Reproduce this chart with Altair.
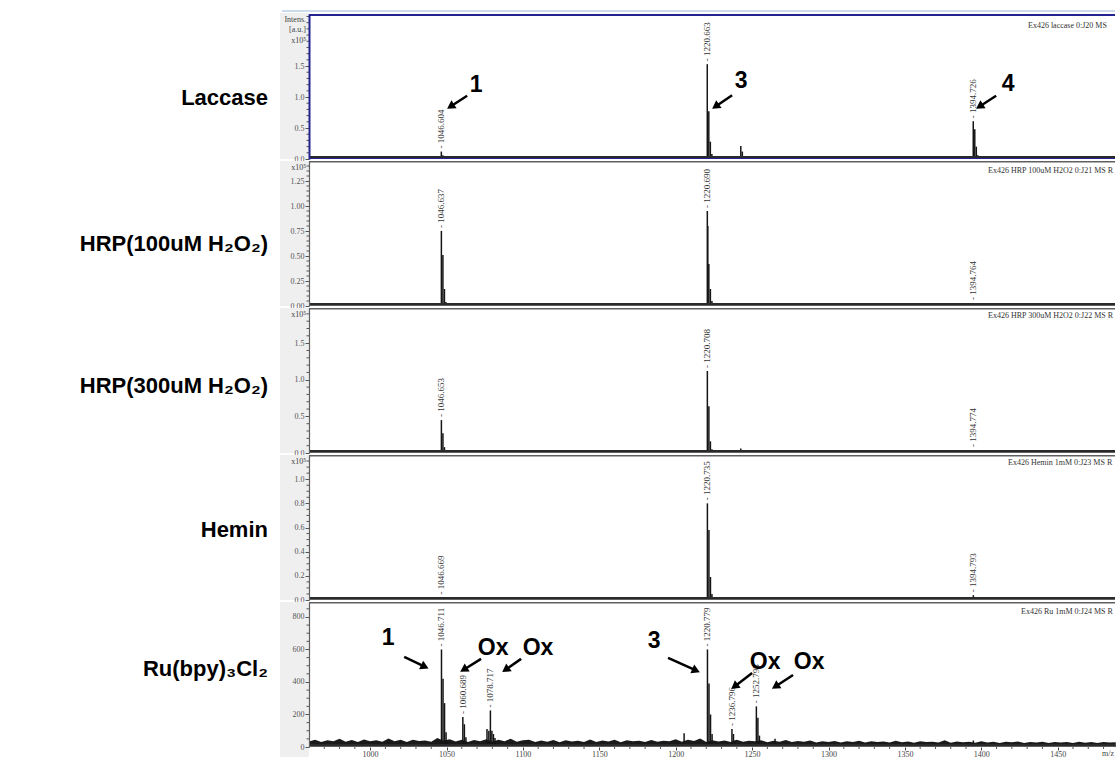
import math
import altair as alt
import pandas as pd

# ---------------- data ----------------
ROW_NAMES = ["Laccase", "HRP(100uM H₂O₂)", "HRP(300uM H₂O₂)", "Hemin", "Ru(bpy)₃Cl₂"]
HEADERS = ["Ex426 laccase 0:J20 MS Raw", "Ex426 HRP 100uM H2O2 0:J21 MS Raw",
           "Ex426 HRP 300uM H2O2 0:J22 MS Raw", "Ex426 Hemin 1mM 0:J23 MS Raw",
           "Ex426 Ru 1mM 0:J24 MS Raw"]

X_TICKS = [1000, 1050, 1100, 1150, 1200, 1250, 1300, 1350, 1400, 1450]
X_MINOR = [970, 980, 990, 1010, 1020, 1030, 1040, 1060, 1070, 1080, 1090, 1110, 1120, 1130, 1140,
           1160, 1170, 1180, 1190, 1210, 1220, 1230, 1240, 1260, 1270, 1280, 1290, 1310, 1320,
           1330, 1340, 1360, 1370, 1380, 1390, 1410, 1420, 1430, 1440, 1460, 1470, 1480]

Y_MAX = [2.34, 1.45, 1.98, 1.20, 892]
Y_TICKS = [[0.0, 0.5, 1.0, 1.5],
           [0.0, 0.25, 0.5, 0.75, 1.0, 1.25],
           [0.0, 0.5, 1.0, 1.5],
           [0.0, 0.2, 0.4, 0.6, 0.8, 1.0],
           [0, 200, 400, 600, 800]]
Y_MINOR = [[0.1, 0.2, 0.3, 0.4, 0.6, 0.7, 0.8, 0.9, 1.1, 1.2, 1.3, 1.4, 1.6, 1.7, 1.8, 1.9, 2.0, 2.1, 2.2, 2.3],
           [0.05, 0.1, 0.15, 0.2, 0.3, 0.35, 0.4, 0.45, 0.55, 0.6, 0.65, 0.7, 0.8, 0.85, 0.9, 0.95,
            1.05, 1.1, 1.15, 1.2, 1.3, 1.35, 1.4],
           [0.1, 0.2, 0.3, 0.4, 0.6, 0.7, 0.8, 0.9, 1.1, 1.2, 1.3, 1.4, 1.6, 1.7, 1.8, 1.9],
           [0.05, 0.1, 0.15, 0.25, 0.3, 0.35, 0.45, 0.5, 0.55, 0.65, 0.7, 0.75, 0.85, 0.9, 0.95, 1.05, 1.1, 1.15],
           [50, 100, 150, 250, 300, 350, 450, 500, 550, 650, 700, 750, 850]]
Y_FMT = [".1f", ".2f", ".1f", ".1f", "d"]

# peaks (m/z, intensity); panels 1-4 in x10^5 a.u., panel 5 in counts
lac_mz = [985.0, 1006.5, 1046.6, 1047.6, 1048.6, 1100.0, 1105.0, 1125.6, 1206.5, 1207.5,
          1220.66, 1221.66, 1222.66, 1223.66, 1224.7, 1242.6, 1243.6, 1244.6, 1258.5,
          1275.0, 1289.0, 1394.73, 1395.73, 1396.73, 1397.7, 1412.0]
lac_int = [0.02, 0.015, 0.12, 0.06, 0.02, 0.015, 0.015, 0.02, 0.03, 0.02,
           1.53, 0.77, 0.28, 0.08, 0.03, 0.21, 0.12, 0.04, 0.02,
           0.015, 0.01, 0.61, 0.48, 0.2, 0.06, 0.015]

h100_mz = [985.0, 1006.0, 1046.64, 1047.64, 1048.64, 1049.6, 1077.0, 1100.0, 1105.0, 1125.0,
           1206.5, 1220.69, 1221.0, 1221.69, 1222.69, 1223.7, 1242.6, 1258.0, 1394.76, 1395.8]
h100_int = [0.01, 0.01, 0.75, 0.51, 0.17, 0.04, 0.01, 0.015, 0.01, 0.02,
            0.02, 0.95, 0.80, 0.42, 0.17, 0.05, 0.03, 0.02, 0.03, 0.02]

h300_mz = [985.0, 1006.0, 1046.65, 1047.65, 1048.65, 1100.0, 1105.0, 1125.0, 1206.5,
           1220.71, 1221.71, 1222.7, 1223.7, 1242.6, 1243.6, 1258.0, 1275.0, 1394.77, 1395.8]
h300_int = [0.01, 0.01, 0.45, 0.27, 0.08, 0.01, 0.01, 0.02, 0.03,
            1.12, 0.64, 0.16, 0.05, 0.06, 0.03, 0.02, 0.02, 0.04, 0.02]

hem_mz = [1046.67, 1047.7, 1206.5, 1220.74, 1221.74, 1222.74, 1223.7, 1242.6, 1258.0,
          1394.79, 1395.8]
hem_int = [0.02, 0.01, 0.01, 0.80, 0.58, 0.19, 0.05, 0.02, 0.015, 0.04, 0.02]

ru_mz = [1046.71, 1047.71, 1048.71, 1049.7, 1050.7, 1060.69, 1061.69, 1062.7,
         1076.5, 1077.7, 1078.72, 1079.7, 1080.7, 1081.7, 1205.5,
         1220.78, 1221.78, 1222.78, 1223.8, 1236.8, 1237.8, 1238.8,
         1252.79, 1253.79, 1254.8, 1265.0, 1394.8]
ru_int = [600, 420, 270, 90, 40, 185, 140, 60,
          110, 100, 225, 100, 80, 55, 85,
          600, 390, 200, 80, 110, 80, 40,
          250, 180, 70, 50, 40]

# Ru baseline noise, one value every 4 m/z from 960 to 1488 (counts)
ru_noise = [34, 44, 31, 42, 36, 50, 33, 43, 30, 46, 35, 41, 32, 52, 36, 44, 30, 45, 37, 40, 33,
            55, 38, 48, 34, 44, 31, 43, 36, 47, 32, 45, 35, 51, 33, 42,
            44, 31, 40, 33, 43, 29, 41, 34, 39, 31, 46, 30, 40, 34, 44, 29, 41, 35, 38, 30, 43, 32, 39, 36, 48,
            33, 45, 37, 52, 31, 42, 34, 40, 30, 44, 32, 39, 35, 41, 29, 39, 33, 43, 30, 37, 32, 40, 28, 36, 31,
            37, 28, 35, 31, 39, 27, 35, 30, 34, 27, 38, 29, 34, 26, 36, 30, 33, 27, 41, 26, 34, 29, 32, 26, 35,
            28, 33, 25, 32, 29, 34, 25, 31, 27, 33, 24, 31, 28, 30, 25, 32, 26, 31, 24, 30, 27, 29]
ru_noise_mz = list(range(960, 1489, 4))

# peak labels (m/z label, apex intensity)
LAB_MZ = [[1046.604, 1220.663, 1394.726],
          [1046.637, 1220.690, 1394.764],
          [1046.653, 1220.708, 1394.774],
          [1046.669, 1220.735, 1394.793],
          [1046.711, 1060.689, 1078.717, 1220.779, 1236.796, 1252.793]]
LAB_TOP = [[0.12, 1.53, 0.61],
           [0.75, 0.95, 0.03],
           [0.45, 1.12, 0.04],
           [0.02, 0.80, 0.04],
           [600, 185, 225, 600, 110, 250]]

# annotations: text label and arrow (start -> tip) in data units
ANN = {
    0: dict(txt=["1", "3", "4"], tx=[1069.4, 1242.8, 1417.5], ty=[1.19, 1.26, 1.21],
            ax1=[1063.5, 1236.9, 1409.7], ay1=[1.02, 1.03, 1.02],
            ax2=[1053.4, 1226.8, 1399.6], ay2=[0.86, 0.86, 0.86]),
    4: dict(txt=["1", "Ox", "Ox", "3", "Ox", "Ox"],
            tx=[1011.8, 1080.5, 1109.9, 1185.9, 1258.5, 1287.3],
            ty=[671, 609, 609, 652, 523, 523],
            ax1=[1022.3, 1072.6, 1098.8, 1195.0, 1250.0, 1276.8],
            ay1=[554, 542, 542, 548, 455, 443],
            ax2=[1035.0, 1062.0, 1089.4, 1212.5, 1239.2, 1266.0],
            ay2=[497, 480, 480, 474, 377, 377]),
}

# ---------------- layout ----------------
W, H = 806, 145
MZ_MIN, MZ_MAX = 960.0, 1487.5
SERIF = "Liberation Serif, DejaVu Serif, serif"
SANS = "Liberation Sans, Arial, DejaVu Sans, sans-serif"
HEADER_X = [719, 679, 679, 699, 712]
HEADER_Y = [12, 10, 8, 8, 10]
ROW_Y = [84, 83, 78, 75, 67]

PEAKS = [(lac_mz, lac_int), (h100_mz, h100_int), (h300_mz, h300_int), (hem_mz, hem_int), (ru_mz, ru_int)]
ONE = pd.DataFrame({"a": [0]})


def panel(i):
    xs = alt.Scale(domain=[MZ_MIN, MZ_MAX], nice=False, zero=False)
    ys = alt.Scale(domain=[0, Y_MAX[i]], nice=False, zero=True)
    frame_col = "#23238f" if i == 0 else "#606060"
    if i == 4:
        xaxis = alt.Axis(values=X_TICKS, format="d", labelFont=SERIF, labelFontSize=8, labelColor="#444",
                         tickSize=3, tickColor="#444", domain=False, grid=False, title=None,
                         labelPadding=0, zindex=1)
    else:
        xaxis = None
    yaxis = alt.Axis(values=Y_TICKS[i], format=Y_FMT[i], labelFont=SERIF, labelFontSize=8,
                     labelColor="#555", tickSize=4, tickColor="#555", domainColor=frame_col,
                     domainWidth=2 if i == 0 else 1.2, grid=False, title=None, labelPadding=1, zindex=1)

    def X(f):
        return alt.X(f, scale=xs, axis=xaxis)

    def Y(f):
        return alt.Y(f, scale=ys, axis=yaxis)

    layers = []
    # grey strip behind y axis
    layers.append(alt.Chart(ONE).mark_rect(color="#efefef").encode(
        x=alt.value(-29), x2=alt.value(0), y=alt.value(-1 if i == 0 else 0),
        y2=alt.value(H + 10 if i == 4 else H)))
    if i == 0:
        layers.append(alt.Chart(ONE).mark_rect(opacity=0).encode(
            x=alt.value(-309), x2=alt.value(-300), y=alt.value(-14), y2=alt.value(-12)))
        layers.append(alt.Chart(ONE).mark_rule(color="#b8cfe8", strokeWidth=1.5).encode(
            x=alt.value(-27), x2=alt.value(W), y=alt.value(-3)))
    if i == 4:
        nd = pd.DataFrame({"mz": ru_noise_mz, "v": ru_noise})
        layers.append(alt.Chart(nd).mark_area(color="#1a1a1a", interpolate="linear").encode(
            x=X("mz:Q"), y=Y("v:Q"), y2=alt.datum(0)))
        md = pd.DataFrame({"m": X_MINOR})
        layers.append(alt.Chart(md).mark_rule(color="#555", strokeWidth=1).encode(
            x=X("m:Q"), y=alt.value(H), y2=alt.value(H + 2)))

    mz, it = PEAKS[i]
    pdf = pd.DataFrame({"mz": mz, "inten": it})
    layers.append(alt.Chart(pdf).mark_rule(color="#151515", strokeWidth=1.5).encode(
        x=X("mz:Q"), y=Y("inten:Q"), y2=alt.datum(0)))

    # minor y ticks
    mdf = pd.DataFrame({"v": Y_MINOR[i]})
    layers.append(alt.Chart(mdf).mark_rule(color="#555", strokeWidth=1).encode(
        y=Y("v:Q"), x=alt.value(-2.5), x2=alt.value(0)))

    # frame + baseline
    fw = 2 if i == 0 else 1.5
    layers.append(alt.Chart(ONE).mark_rule(color=frame_col, strokeWidth=fw).encode(
        x=alt.value(0), x2=alt.value(W), y=alt.value(fw / 2)))
    layers.append(alt.Chart(ONE).mark_rule(color=frame_col, strokeWidth=fw).encode(
        x=alt.value(0), x2=alt.value(W), y=alt.value(H - fw / 2)))
    layers.append(alt.Chart(ONE).mark_rule(color="#2a2a2a", strokeWidth=2).encode(
        x=alt.value(0), x2=alt.value(W), y=alt.value(H - 2)))

    # peak labels
    ldf = pd.DataFrame({"mz": LAB_MZ[i], "top": LAB_TOP[i],
                        "lab": ["- " + f"{v:.3f}" for v in LAB_MZ[i]]})
    layers.append(alt.Chart(ldf).mark_text(angle=270, align="left", baseline="middle", dx=3,
                                           font=SERIF, fontSize=9, color="#333").encode(
        x=X("mz:Q"), y=Y("top:Q"), text="lab:N"))

    # header at top right (cut at the right edge)
    layers.append(alt.Chart(ONE).mark_text(align="left", baseline="middle", font=SERIF, fontSize=8,
                                           color="#333", limit=W - HEADER_X[i] + 1, ellipsis=" ").encode(
        x=alt.value(HEADER_X[i]), y=alt.value(HEADER_Y[i]), text=alt.value(HEADERS[i])))

    # y unit labels
    if i < 4:
        units = ["Intens.", "[a.u.]", "x10⁵"] if i == 0 else ["x10⁵"]
        uys = [6, 16, 27] if i == 0 else [7]
        for t, yy in zip(units, uys):
            layers.append(alt.Chart(ONE).mark_text(align="right", baseline="middle", font=SERIF,
                                                   fontSize=8, color="#444").encode(
                x=alt.value(-3), y=alt.value(yy), text=alt.value(t)))
    else:
        layers.append(alt.Chart(ONE).mark_text(align="right", baseline="top", font=SERIF, fontSize=8,
                                               color="#444").encode(
            x=alt.value(W - 1), y=alt.value(H + 3), text=alt.value("m/z")))

    # row label
    layers.append(alt.Chart(ONE).mark_text(align="right", baseline="middle", font=SANS, fontWeight="bold",
                                           fontSize=22, color="black").encode(
        x=alt.value(-41), y=alt.value(ROW_Y[i]), text=alt.value(ROW_NAMES[i])))

    # annotations
    if i in ANN:
        a = ANN[i]
        pxx = W / (MZ_MAX - MZ_MIN)
        pxy = H / Y_MAX[i]
        angs = []
        for x1, y1, x2, y2 in zip(a["ax1"], a["ay1"], a["ax2"], a["ay2"]):
            dx = (x2 - x1) * pxx
            dy = -(y2 - y1) * pxy
            angs.append(math.degrees(math.atan2(dx, -dy)) % 360)
        adf = pd.DataFrame({"x1": a["ax1"], "y1": a["ay1"], "x2": a["ax2"], "y2": a["ay2"], "ang": angs})
        tdf = pd.DataFrame({"tx": a["tx"], "ty": a["ty"], "t": a["txt"]})
        layers.append(alt.Chart(adf).mark_rule(color="black", strokeWidth=2.5).encode(
            x=X("x1:Q"), x2="x2:Q", y=Y("y1:Q"), y2="y2:Q"))
        layers.append(alt.Chart(adf).mark_point(shape="triangle", filled=True, size=90, color="black",
                                                opacity=1).encode(
            x=X("x2:Q"), y=Y("y2:Q"), angle=alt.Angle("ang:Q", scale=None)))
        layers.append(alt.Chart(tdf).mark_text(font=SANS, fontWeight="bold", fontSize=23, color="black",
                                               align="center", baseline="middle").encode(
            x=X("tx:Q"), y=Y("ty:Q"), text="t:N"))

    return alt.layer(*layers).properties(width=W, height=H)


chart = alt.vconcat(*[panel(i) for i in range(5)], spacing=2, bounds="flush").properties(
    padding=0, background="white").configure_view(stroke=None)

chart.save("out.html", embed_options={"renderer": "svg", "actions": False})
